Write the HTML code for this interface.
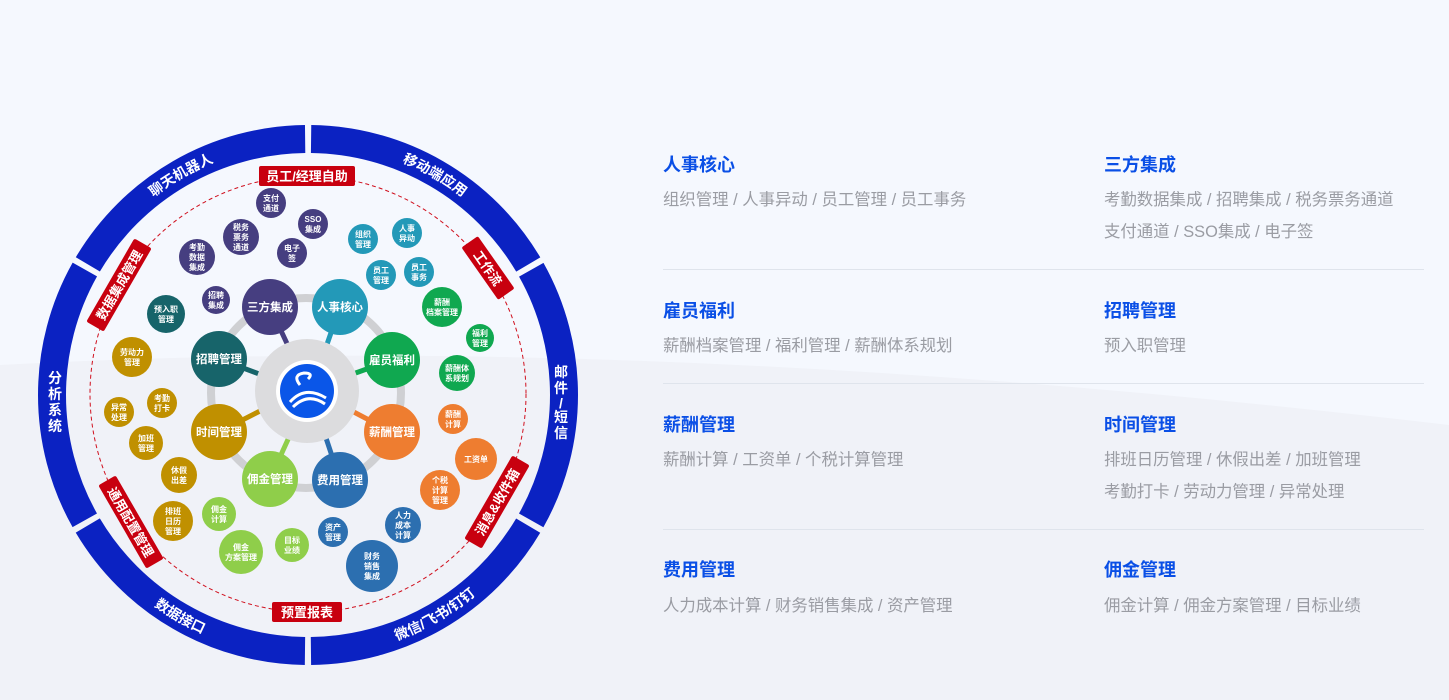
<!DOCTYPE html>
<html><head><meta charset="utf-8"><style>
html,body{margin:0;padding:0;}
body{width:1449px;height:700px;overflow:hidden;background:#f5f8fe;font-family:"Liberation Sans","Noto Sans CJK SC",sans-serif;position:relative;}
svg{position:absolute;left:0;top:0;}
.t{position:absolute;font-size:18px;font-weight:bold;color:#0a4fe6;}
.d{position:absolute;font-size:16.4px;color:#9a9ca3;line-height:32px;white-space:nowrap;}
.hr{position:absolute;left:663px;width:761px;height:1px;background:#dfe4ec;}
</style></head><body>
<svg width="1449" height="700" viewBox="0 0 1449 700"><path d="M0,365 Q640,330 1449,425 L1449,700 L0,700 Z" fill="#f0f2f8"/></svg>
<svg width="640" height="700" viewBox="0 0 640 700" font-family="Liberation Sans, Noto Sans CJK SC, sans-serif">
<circle cx="308" cy="395" r="256" fill="none" stroke="#0b22c2" stroke-width="28" stroke-dasharray="262.08 6" stroke-dashoffset="-137.04"/>
<defs>
<path id="a1" d="M90.6,269.5 A251,251 0 0 1 308,144"/>
<path id="a2" d="M308,144 A251,251 0 0 1 525.4,269.5"/>
<path id="a3" d="M82,525.5 A261,261 0 0 0 308,656"/>
<path id="a4" d="M308,656 A261,261 0 0 0 534,525.5"/>
</defs>
<g fill="#fff" font-size="14" font-weight="bold">
<text><textPath href="#a1" startOffset="50%" text-anchor="middle">聊天机器人</textPath></text>
<text><textPath href="#a2" startOffset="50%" text-anchor="middle">移动端应用</textPath></text>
<text><textPath href="#a3" startOffset="50%" text-anchor="middle">数据接口</textPath></text>
<text><textPath href="#a4" startOffset="50%" text-anchor="middle">微信/飞书/钉钉</textPath></text>
<text x="55" y="383" text-anchor="middle">分</text><text x="55" y="399" text-anchor="middle">析</text><text x="55" y="415" text-anchor="middle">系</text><text x="55" y="431" text-anchor="middle">统</text>
<text x="561" y="377" text-anchor="middle">邮</text><text x="561" y="393" text-anchor="middle">件</text><text x="561" y="408" text-anchor="middle">/</text><text x="561" y="422" text-anchor="middle">短</text><text x="561" y="438" text-anchor="middle">信</text>
</g>
<circle cx="308" cy="394" r="218" fill="none" stroke="#d0101e" stroke-width="1" stroke-dasharray="4 3"/>
<g font-size="13" font-weight="bold" fill="#fff" text-anchor="middle">
<g transform="translate(307,176)"><rect x="-48" y="-10" width="96" height="20" fill="#c8000f" rx="2"/><text y="5">员工/经理自助</text></g>
<g transform="translate(307,612)"><rect x="-35" y="-10" width="70" height="20" fill="#c8000f" rx="2"/><text y="5">预置报表</text></g>
<g transform="translate(488,268) rotate(55)"><rect x="-32" y="-10" width="64" height="20" fill="#c8000f" rx="2"/><text y="5">工作流</text></g>
<g transform="translate(497,502) rotate(-60)"><rect x="-48" y="-10" width="96" height="20" fill="#c8000f" rx="2"/><text y="5">消息&amp;收件箱</text></g>
<g transform="translate(119,285) rotate(-60)"><rect x="-48" y="-10" width="96" height="20" fill="#c8000f" rx="2"/><text y="5">数据集成管理</text></g>
<g transform="translate(131,522) rotate(60)"><rect x="-48" y="-10" width="96" height="20" fill="#c8000f" rx="2"/><text y="5">通用配置管理</text></g>
</g>
<circle cx="306" cy="393" r="95" fill="none" stroke="#cfd0d3" stroke-width="8"/>
<g stroke-width="5" stroke-linecap="round">
<line x1="270" y1="307" x2="290" y2="350" stroke="#463e80"/>
<line x1="340" y1="307" x2="325" y2="350" stroke="#2399b8"/>
<line x1="392" y1="360" x2="350" y2="375" stroke="#10a850"/>
<line x1="392" y1="432" x2="350" y2="410" stroke="#ee7d30"/>
<line x1="340" y1="480" x2="325" y2="435" stroke="#2c6fb0"/>
<line x1="270" y1="479" x2="290" y2="435" stroke="#8fce4a"/>
<line x1="219" y1="432" x2="262" y2="410" stroke="#c09000"/>
<line x1="219" y1="359" x2="262" y2="375" stroke="#17646a"/>
</g>
<circle cx="307" cy="391" r="52" fill="#dcdcde"/>
<circle cx="307" cy="391" r="31" fill="#fff"/>
<circle cx="307" cy="391" r="27" fill="#0a56e8"/>
<path d="M290 402 Q305 385 326 398 M293 407 Q308 392 325 404" stroke="#fff" stroke-width="3" fill="none"/>
<path d="M300 385 q-8 -10 4 -12 q10 0 4 6" stroke="#fff" stroke-width="3" fill="none"/>
<g font-size="11.5" font-weight="bold" fill="#fff" text-anchor="middle">
<circle cx="270" cy="307" r="28" fill="#463e80"/><text x="270" y="311">三方集成</text>
<circle cx="340" cy="307" r="28" fill="#2399b8"/><text x="340" y="311">人事核心</text>
<circle cx="392" cy="360" r="28" fill="#10a850"/><text x="392" y="364">雇员福利</text>
<circle cx="392" cy="432" r="28" fill="#ee7d30"/><text x="392" y="436">薪酬管理</text>
<circle cx="340" cy="480" r="28" fill="#2c6fb0"/><text x="340" y="484">费用管理</text>
<circle cx="270" cy="479" r="28" fill="#8fce4a"/><text x="270" y="483">佣金管理</text>
<circle cx="219" cy="432" r="28" fill="#c09000"/><text x="219" y="436">时间管理</text>
<circle cx="219" cy="359" r="28" fill="#17646a"/><text x="219" y="363">招聘管理</text>
</g>
<g font-size="8" font-weight="bold" fill="#fff" text-anchor="middle">
<circle cx="271" cy="203" r="15" fill="#463e80"/><text x="271" y="201">支付</text><text x="271" y="211">通道</text>
<circle cx="313" cy="224" r="15" fill="#463e80"/><text x="313" y="222">SSO</text><text x="313" y="232">集成</text>
<circle cx="241" cy="237" r="18" fill="#463e80"/><text x="241" y="230">税务</text><text x="241" y="240">票务</text><text x="241" y="250">通道</text>
<circle cx="292" cy="253" r="15" fill="#463e80"/><text x="292" y="251">电子</text><text x="292" y="261">签</text>
<circle cx="197" cy="257" r="18" fill="#463e80"/><text x="197" y="250">考勤</text><text x="197" y="260">数据</text><text x="197" y="270">集成</text>
<circle cx="216" cy="300" r="14" fill="#463e80"/><text x="216" y="298">招聘</text><text x="216" y="308">集成</text>
<circle cx="166" cy="314" r="19" fill="#17646a"/><text x="166" y="312">预入职</text><text x="166" y="322">管理</text>
<circle cx="363" cy="239" r="15" fill="#2399b8"/><text x="363" y="237">组织</text><text x="363" y="247">管理</text>
<circle cx="407" cy="233" r="15" fill="#2399b8"/><text x="407" y="231">人事</text><text x="407" y="241">异动</text>
<circle cx="381" cy="275" r="15" fill="#2399b8"/><text x="381" y="273">员工</text><text x="381" y="283">管理</text>
<circle cx="419" cy="272" r="15" fill="#2399b8"/><text x="419" y="270">员工</text><text x="419" y="280">事务</text>
<circle cx="442" cy="307" r="20" fill="#10a850"/><text x="442" y="305">薪酬</text><text x="442" y="315">档案管理</text>
<circle cx="480" cy="338" r="14" fill="#10a850"/><text x="480" y="336">福利</text><text x="480" y="346">管理</text>
<circle cx="457" cy="373" r="18" fill="#10a850"/><text x="457" y="371">薪酬体</text><text x="457" y="381">系规划</text>
<circle cx="132" cy="357" r="20" fill="#c09000"/><text x="132" y="355">劳动力</text><text x="132" y="365">管理</text>
<circle cx="162" cy="403" r="15" fill="#c09000"/><text x="162" y="401">考勤</text><text x="162" y="411">打卡</text>
<circle cx="119" cy="412" r="15" fill="#c09000"/><text x="119" y="410">异常</text><text x="119" y="420">处理</text>
<circle cx="146" cy="443" r="17" fill="#c09000"/><text x="146" y="441">加班</text><text x="146" y="451">管理</text>
<circle cx="179" cy="475" r="18" fill="#c09000"/><text x="179" y="473">休假</text><text x="179" y="483">出差</text>
<circle cx="173" cy="521" r="20" fill="#c09000"/><text x="173" y="514">排班</text><text x="173" y="524">日历</text><text x="173" y="534">管理</text>
<circle cx="219" cy="514" r="17" fill="#8fce4a"/><text x="219" y="512">佣金</text><text x="219" y="522">计算</text>
<circle cx="241" cy="552" r="22" fill="#8fce4a"/><text x="241" y="550">佣金</text><text x="241" y="560">方案管理</text>
<circle cx="292" cy="545" r="17" fill="#8fce4a"/><text x="292" y="543">目标</text><text x="292" y="553">业绩</text>
<circle cx="333" cy="532" r="15" fill="#2c6fb0"/><text x="333" y="530">资产</text><text x="333" y="540">管理</text>
<circle cx="403" cy="525" r="18" fill="#2c6fb0"/><text x="403" y="518">人力</text><text x="403" y="528">成本</text><text x="403" y="538">计算</text>
<circle cx="372" cy="566" r="26" fill="#2c6fb0"/><text x="372" y="559">财务</text><text x="372" y="569">销售</text><text x="372" y="579">集成</text>
<circle cx="453" cy="419" r="15" fill="#ee7d30"/><text x="453" y="417">薪酬</text><text x="453" y="427">计算</text>
<circle cx="476" cy="459" r="21" fill="#ee7d30"/><text x="476" y="462">工资单</text>
<circle cx="440" cy="490" r="20" fill="#ee7d30"/><text x="440" y="483">个税</text><text x="440" y="493">计算</text><text x="440" y="503">管理</text>
</g>
</svg>

<div class="t" style="left:663px;top:151px">人事核心</div>
<div class="d" style="left:663px;top:184px">组织管理 / 人事异动 / 员工管理 / 员工事务</div>
<div class="t" style="left:1104px;top:151px">三方集成</div>
<div class="d" style="left:1104px;top:184px">考勤数据集成 / 招聘集成 / 税务票务通道<br>支付通道 / SSO集成 / 电子签</div>
<div class="hr" style="top:269px"></div>
<div class="t" style="left:663px;top:297px">雇员福利</div>
<div class="d" style="left:663px;top:330px">薪酬档案管理 / 福利管理 / 薪酬体系规划</div>
<div class="t" style="left:1104px;top:297px">招聘管理</div>
<div class="d" style="left:1104px;top:330px">预入职管理</div>
<div class="hr" style="top:383px"></div>
<div class="t" style="left:663px;top:411px">薪酬管理</div>
<div class="d" style="left:663px;top:444px">薪酬计算 / 工资单 / 个税计算管理</div>
<div class="t" style="left:1104px;top:411px">时间管理</div>
<div class="d" style="left:1104px;top:444px">排班日历管理 / 休假出差 / 加班管理<br>考勤打卡 / 劳动力管理 / 异常处理</div>
<div class="hr" style="top:529px"></div>
<div class="t" style="left:663px;top:556px">费用管理</div>
<div class="d" style="left:663px;top:590px">人力成本计算 / 财务销售集成 / 资产管理</div>
<div class="t" style="left:1104px;top:556px">佣金管理</div>
<div class="d" style="left:1104px;top:590px">佣金计算 / 佣金方案管理 / 目标业绩</div>
</body></html>
